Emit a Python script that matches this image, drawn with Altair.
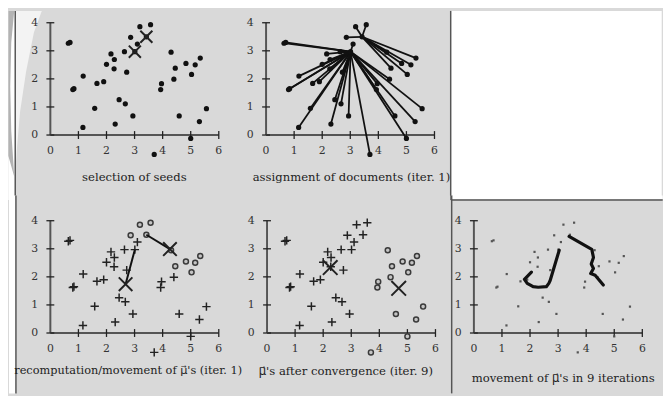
import altair as alt
import pandas as pd

# ---------------- data ----------------
PX = [0.64, 0.70, 0.84, 0.80, 1.17, 1.16, 1.58, 1.66, 1.90, 2.00,
      2.16, 2.28, 2.27, 2.45, 2.31, 2.67, 2.72, 2.64, 2.86, 2.94,
      3.01, 3.10, 3.19, 3.57, 3.42, 3.70, 3.96, 3.93, 4.30, 4.45,
      4.40, 4.59, 4.83, 5.03, 5.16, 5.34, 5.00, 5.31, 5.56]
PY = [3.27, 3.30, 1.65, 1.62, 2.10, 0.27, 0.95, 1.84, 1.90, 2.52,
      2.89, 2.69, 2.36, 1.26, 0.39, 1.11, 2.24, 2.97, 3.48, 0.68,
      2.97, 3.24, 3.86, 3.93, 3.50, -0.69, 1.83, 1.62, 2.95, 2.38,
      1.99, 0.68, 2.55, 2.16, 2.50, 2.74, -0.12, 0.48, 0.94]
ITER1 = [1, 1, 1, 1, 1, 1, 1, 1, 1, 1,
         1, 1, 1, 1, 1, 1, 1, 1, 2, 1,
         1, 1, 2, 2, 2, 1, 1, 1, 2, 2,
         1, 1, 2, 2, 2, 2, 1, 1, 1]
ITER9 = [1, 1, 1, 1, 1, 1, 1, 1, 1, 1,
         1, 1, 1, 1, 1, 1, 1, 1, 1, 1,
         1, 1, 1, 1, 1, 2, 2, 2, 2, 2,
         2, 2, 2, 2, 2, 2, 2, 2, 2]
SEED_X = [3.01, 3.42]
SEED_Y = [2.97, 3.50]
C1_X = [2.68, 4.26]
C1_Y = [1.74, 2.99]
C9_X = [2.25, 4.69]
C9_Y = [2.33, 1.59]
PATH1_X = [3.04, 2.72, 2.67, 2.58, 2.29, 2.11, 1.90, 1.80, 2.05]
PATH1_Y = [2.95, 1.88, 1.77, 1.65, 1.63, 1.65, 1.77, 1.91, 2.17]
PATH2_X = [3.39, 4.20, 4.26, 4.18, 4.26, 4.16, 4.32, 4.61]
PATH2_Y = [3.44, 2.98, 2.69, 2.46, 2.30, 2.12, 2.06, 1.71]
X_TICKS = [1, 2, 3, 4, 5, 6]
X_LABELS = [0, 1, 2, 3, 4, 5, 6]
Y_TICKS = [0, 1, 2, 3, 4]
MU = "\u03bc\u20d7"
CAPTIONS = ["selection of seeds",
            "assignment of documents (iter. 1)",
            "recomputation/movement of " + MU + "'s (iter. 1)",
            MU + "'s after convergence (iter. 9)",
            "movement of " + MU + "'s in 9 iterations"]

# ---------------- helpers ----------------
W, H = 171, 114
FONT = "DejaVu Serif, DejaVu Sans, Noto Sans"
BG = "#d9d9d9"
EDGE = "#555555"
xs = alt.Scale(domain=[0, 6], nice=False, zero=False)
ys = alt.Scale(domain=[0, 4], nice=False, zero=False)
ONE = alt.Data(values=[{"a": 1}])


def X(f):
    return alt.X(f, type="quantitative", scale=xs, axis=None)


def Y(f):
    return alt.Y(f, type="quantitative", scale=ys, axis=None)


def XD(v):
    return alt.XDatum(v, type="quantitative", scale=xs, axis=None)


def YD(v):
    return alt.YDatum(v, type="quantitative", scale=ys, axis=None)


def box(x1, x2, y1, y2, color):
    return alt.Chart(ONE).mark_rect(color=color).encode(
        x=alt.value(x1), x2=alt.value(x2), y=alt.value(y1), y2=alt.value(y2))


pts = pd.DataFrame({"x": PX, "y": PY, "c1": ITER1, "c9": ITER9})
pts["sx"] = [SEED_X[c - 1] for c in ITER1]
pts["sy"] = [SEED_Y[c - 1] for c in ITER1]
seeds = pd.DataFrame({"x": SEED_X, "y": SEED_Y})
moves = pd.DataFrame({"x": SEED_X, "y": SEED_Y, "x2": C1_X, "y2": C1_Y})
c1 = pd.DataFrame({"x": C1_X, "y": C1_Y})
c9 = pd.DataFrame({"x": C9_X, "y": C9_Y})
paths = pd.DataFrame({
    "x": PATH1_X + PATH2_X,
    "y": PATH1_Y + PATH2_Y,
    "k": ["a"] * len(PATH1_X) + ["b"] * len(PATH2_X),
    "o": list(range(len(PATH1_X))) + list(range(len(PATH2_X))),
})

PLUS = "M-1,0L1,0M0,-1L0,1"
CROSS = "M-1,-1L1,1M-1,1L1,-1"


def axes():
    xt = pd.DataFrame({"v": X_TICKS})
    xl = pd.DataFrame({"v": X_LABELS})
    yt = pd.DataFrame({"v": Y_TICKS})
    return [
        alt.Chart(ONE).mark_rule(color="#555", strokeWidth=2).encode(
            x=XD(0), x2=alt.X2Datum(6), y=YD(0)),
        alt.Chart(ONE).mark_rule(color="#555", strokeWidth=2).encode(
            x=XD(0), y=YD(0), y2=alt.Y2Datum(4)),
        alt.Chart(xt).mark_point(shape="M0,-1L0,1", size=64, filled=False,
                                 color="#222", strokeWidth=1.3, opacity=1).encode(
            x=X("v"), y=YD(0)),
        alt.Chart(yt).mark_point(shape="M-1,0L1,0", size=64, filled=False,
                                 color="#222", strokeWidth=1.3, opacity=1).encode(
            x=XD(0), y=Y("v")),
        alt.Chart(xl).mark_text(dy=16, font=FONT, fontSize=11, color="#333").encode(
            x=X("v"), y=YD(0), text="v:N"),
        alt.Chart(yt).mark_text(dx=-16, font=FONT, fontSize=11, color="#333").encode(
            x=XD(0), y=Y("v"), text="v:N"),
    ]


def caption(txt, cx, cy, fs=11.8):
    return alt.Chart(ONE).mark_text(font=FONT, fontSize=fs, color="#222").encode(
        x=alt.value(cx), y=alt.value(cy), text=alt.value(txt))


def dots(df, size=28):
    return alt.Chart(df).mark_point(shape="circle", filled=True, size=size,
                                    color="#111", opacity=1).encode(x=X("x"), y=Y("y"))


def crosses(df, size):
    return alt.Chart(df).mark_point(shape=CROSS, filled=False, size=size, color="#222",
                                    strokeWidth=2, opacity=1).encode(x=X("x"), y=Y("y"))


def plus_o(field):
    return [
        alt.Chart(pts).transform_filter(alt.datum[field] == 1).mark_point(
            shape=PLUS, filled=False, size=72, color="#222", strokeWidth=1.5,
            opacity=1).encode(x=X("x"), y=Y("y")),
        alt.Chart(pts).transform_filter(alt.datum[field] == 2).mark_point(
            shape="circle", filled=True, size=26, color="#c4c4c4", stroke="#3a3a3a",
            strokeWidth=1.5, opacity=1).encode(x=X("x"), y=Y("y")),
    ]


# ---------------- cell frames (pixel values, relative to each plot origin) ----------------
WHITE_CRESCENT = "M0,-0.77L0.27,-0.77L0.19,-0.55L0.11,-0.15L0.05,0.25L0.02,0.6L0,0.87Z"
GRAY_CRESCENT = "M-0.07,-0.77L-0.01,-0.77L-0.04,-0.45L-0.05,0L-0.04,0.45L-0.02,0.75L-0.01,0.91L-0.07,0.7Z"

# row 1 frames end 1px below the seam, row 2 frames start 4px above it;
# the rows overlap by 5px so no gap can show between them
frame_a = [
    box(-42.7, -35.7, -12, 180, "white"),
    box(-35.7, 194.6, -12, 180, BG),
    alt.Chart(ONE).mark_point(shape=WHITE_CRESCENT, filled=True, size=40000,
                              color="#f3f3f3", strokeWidth=0, opacity=1).encode(
        x=alt.value(-35.7), y=alt.value(65)),
    alt.Chart(ONE).mark_point(shape=GRAY_CRESCENT, filled=True, size=40000,
                              color="#b3b3b3", strokeWidth=0, opacity=1).encode(
        x=alt.value(-35.7), y=alt.value(65)),
    box(-36.4, -34.9, -12, 180, EDGE),
]
frame_b = [
    box(-24, 186.7, -12, 180, BG),
    box(186.7, 401.7, -12, 180, "white"),
    box(186.7, 188.2, -12, 180, EDGE),
]
frame_c = [
    box(-42, -35, -25.7, 175.3, "white"),
    box(-35, 200, -25.7, 175.3, BG),
    box(-35.7, -34.2, -25.7, 175.3, EDGE),
]
frame_d = [
    box(-20, 186, -25.7, 175.3, BG),
]
frame_e = [
    box(-23.3, 191.7, -25.7, -21.7, "white"),
    box(-23.3, 191.7, -21.7, 175.3, BG),
    box(-23.3, -21.8, -25.7, 175.3, EDGE),
    box(-23.3, 191.7, -21.7, -20.2, EDGE),
]

# ---------------- panels ----------------
p1 = alt.layer(*frame_a, *axes(), dots(pts), crosses(seeds, 150),
               caption(CAPTIONS[0], 85.3, 157)).properties(width=W, height=H)

lines2 = alt.Chart(pts).mark_rule(color="#111", strokeWidth=1.8).encode(
    x=X("x"), y=Y("y"), x2="sx:Q", y2="sy:Q")
p2 = alt.layer(*frame_b, *axes(), lines2, dots(pts),
               caption(CAPTIONS[1], 86.7, 157)).properties(width=W, height=H)

move3 = alt.Chart(moves).mark_rule(color="#111", strokeWidth=2).encode(
    x=X("x"), y=Y("y"), x2="x2:Q", y2="y2:Q")
p3 = alt.layer(*frame_c, *axes(), *plus_o("c1"), move3, crosses(c1, 190),
               caption(CAPTIONS[2], 79, 152.3, 11.5)).properties(width=W, height=H)

p4 = alt.layer(*frame_d, *axes(), *plus_o("c9"), crosses(c9, 220),
               caption(CAPTIONS[3], 80, 152.3)).properties(width=W, height=H)

small = alt.Chart(pts).mark_point(shape="square", filled=True, size=5, color="#555",
                                  opacity=1).encode(x=X("x"), y=Y("y"))
path5 = alt.Chart(paths).mark_line(color="#111", strokeWidth=3.2, strokeCap="round",
                                   strokeJoin="round").encode(
    x=X("x"), y=Y("y"), detail="k:N", order="o:Q")
p5 = alt.layer(*frame_e, *axes(), small, path5,
               caption(CAPTIONS[4], 90.7, 159.3)).properties(width=W, height=H)

row1 = alt.hconcat(p1, p2, spacing=0)
row2 = alt.hconcat(p3, p4, p5, spacing=0)
chart = alt.vconcat(row1, row2, spacing=-5).properties(
    padding=0, background=BG
).configure_view(stroke=None)

chart.save("out.html", embed_options={"renderer": "svg", "actions": False})
